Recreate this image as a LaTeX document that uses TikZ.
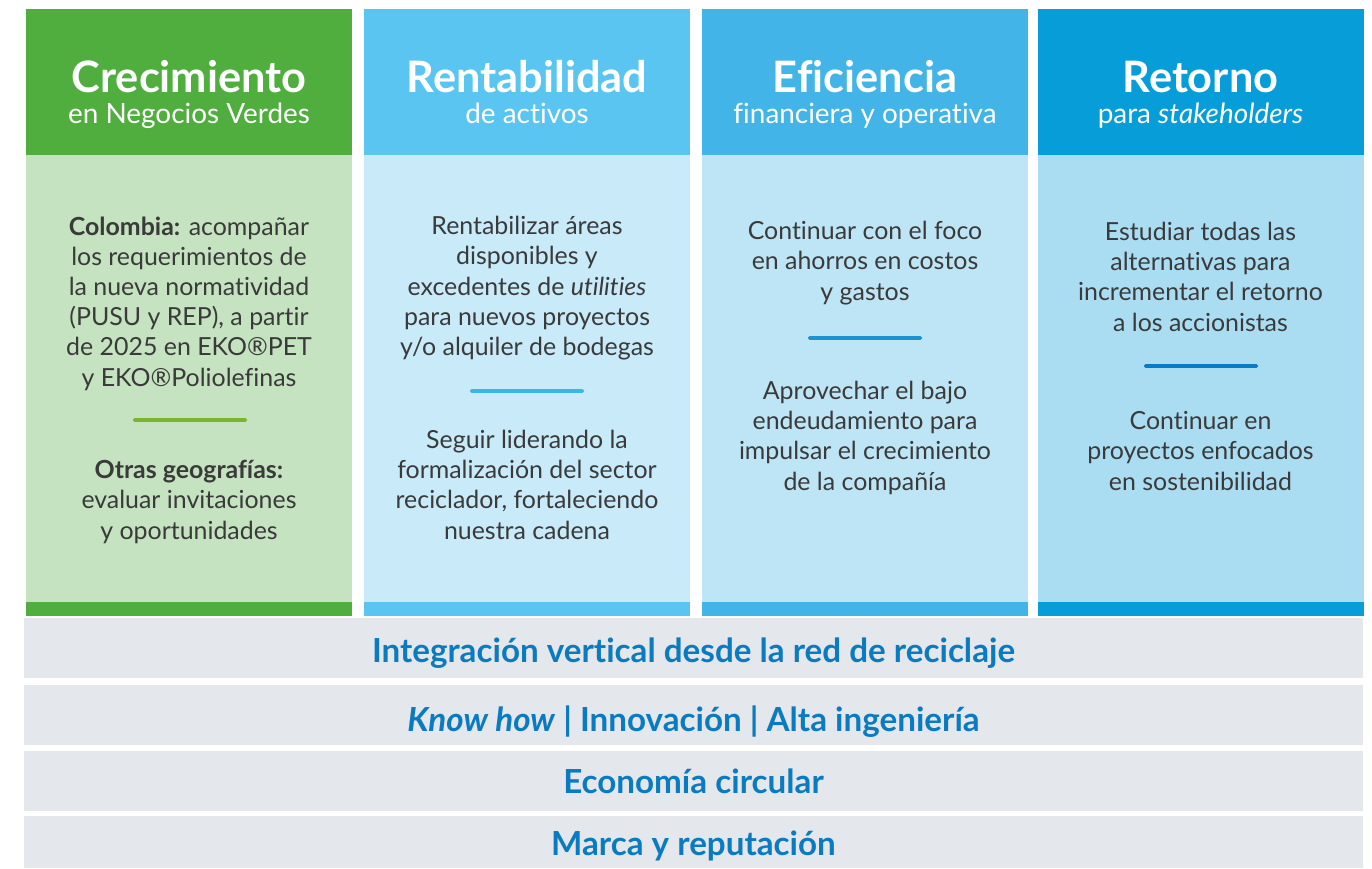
\documentclass[tikz,border=0pt]{standalone}
\usepackage{fontspec}
\setmainfont{Lato}[Ligatures=NoCommon]
\usetikzlibrary{positioning}

\definecolor{greenHead}{HTML}{4FAE3E}
\definecolor{greenBody}{HTML}{C5E3C0}
\definecolor{greenRule}{HTML}{7AB52E}
\definecolor{skyHead}{HTML}{5BC5F2}
\definecolor{skyBody}{HTML}{C8EAF9}
\definecolor{skyRule}{HTML}{3BB6EA}
\definecolor{midHead}{HTML}{42B4E7}
\definecolor{midBody}{HTML}{BEE5F6}
\definecolor{midRule}{HTML}{1B93D1}
\definecolor{deepHead}{HTML}{069DD9}
\definecolor{deepBody}{HTML}{ABDDF2}
\definecolor{deepRule}{HTML}{0A7BC4}
\definecolor{bandFill}{HTML}{E4E7EC}
\definecolor{bandText}{HTML}{0B7BC1}
\definecolor{bodyText}{HTML}{3A3A3A}

\tikzset{head/.style={fill=#1,anchor=north,inner sep=0pt,minimum width=326bp,minimum height=146bp}}
\tikzset{colbody/.style={fill=#1,anchor=north,inner sep=0pt,minimum width=326bp,minimum height=447bp}}
\tikzset{strip/.style={fill=#1,anchor=north,inner sep=0pt,minimum width=326bp,minimum height=13.5bp}}
\tikzset{title/.style={anchor=base,inner sep=0pt,text=white,font=\fontsize{43.5}{48}\bfseries\selectfont}}
\tikzset{subtitle/.style={anchor=base,inner sep=0pt,text=white,font=\fontsize{28}{32}\selectfont}}
% multi-line text: base anchor sits on the last line
\tikzset{txt/.style={anchor=base,inner sep=0pt,align=center,text=bodyText,font=\fontsize{25}{30.3}\selectfont}}
\tikzset{rule/.style={fill=#1,inner sep=0pt,minimum width=114bp,minimum height=3.6bp,rounded corners=1.5bp}}
\tikzset{band/.style={fill=bandFill,anchor=north,inner sep=0pt,minimum width=1339bp,minimum height=#1}}
\tikzset{bandlabel/.style={anchor=base,inner sep=0pt,text=bandText,font=\fontsize{33.3}{36}\bfseries\selectfont}}

\begin{document}
\begin{tikzpicture}[x=1bp,y=-1bp]
\useasboundingbox[fill=white] (0,0) rectangle (1372,868);

% column 1
\node[head=greenHead] (H1) at (189,9) {};
\node[colbody=greenBody] (B1) at (189,155) {};
\node[strip=greenHead] (S1) at (189,602) {};
\node[title] (T1) at (189,92) {Crecimiento};
\node[subtitle] (U1) at (189,123) {en Negocios Verdes};
\node[txt] (P1a) at (189,386) {\textbf{Colombia:} acompañar\\los requerimientos de\\la nueva normatividad\\(PUSU y REP), a partir\\de 2025 en EKO®PET\\y EKO®Poliolefinas};
\node[rule=greenRule] (R1) at (190,420) {};
\node[txt] (P1b) at (189,539) {\textbf{Otras geografías:}\\evaluar invitaciones\\y oportunidades};

% column 2
\node[head=skyHead] (H2) at (527,9) {};
\node[colbody=skyBody] (B2) at (527,155) {};
\node[strip=skyHead] (S2) at (527,602) {};
\node[title] (T2) at (527,92) {Rentabilidad};
\node[subtitle] (U2) at (527,123) {de activos};
\node[txt] (P2a) at (527,355.5) {Rentabilizar áreas\\disponibles y\\excedentes de \textit{utilities}\\para nuevos proyectos\\y/o alquiler de bodegas};
\node[rule=skyRule] (R2) at (527,391) {};
\node[txt] (P2b) at (527,539) {Seguir liderando la\\formalización del sector\\reciclador, fortaleciendo\\nuestra cadena};

% column 3
\node[head=midHead] (H3) at (865,9) {};
\node[colbody=midBody] (B3) at (865,155) {};
\node[strip=midHead] (S3) at (865,602) {};
\node[title] (T3) at (865,92) {Eficiencia};
\node[subtitle] (U3) at (865,123) {financiera y operativa};
\node[txt] (P3a) at (865,300) {Continuar con el foco\\en ahorros en costos\\y gastos};
\node[rule=midRule] (R3) at (865,338) {};
\node[txt] (P3b) at (865,490) {Aprovechar el bajo\\endeudamiento para\\impulsar el crecimiento\\de la compañía};

% column 4
\node[head=deepHead] (H4) at (1200.5,9) {};
\node[colbody=deepBody] (B4) at (1200.5,155) {};
\node[strip=deepHead] (S4) at (1200.5,602) {};
\node[title] (T4) at (1200.5,92) {Retorno};
\node[subtitle] (U4) at (1200.5,123) {para \textit{stakeholders}};
\node[txt] (P4a) at (1200.5,331) {Estudiar todas las\\alternativas para\\incrementar el retorno\\a los accionistas};
\node[rule=deepRule] (R4) at (1201,366) {};
\node[txt] (P4b) at (1200.5,490) {Continuar en\\proyectos enfocados\\en sostenibilidad};

% bands
\node[band=60bp] (G1) at (693.5,618) {};
\node[bandlabel] (L1) at (693.5,662) {Integración vertical desde la red de reciclaje};
\node[band=60bp] (G2) at (693.5,685) {};
\node[bandlabel] (L2) at (693.5,731) {\textit{Know how} | Innovación | Alta ingeniería};
\node[band=60bp] (G3) at (693.5,751) {};
\node[bandlabel] (L3) at (693.5,793.5) {Economía circular};
\node[band=52bp] (G4) at (693.5,816) {};
\node[bandlabel] (L4) at (693.5,855) {Marca y reputación};

\end{tikzpicture}
\end{document}
